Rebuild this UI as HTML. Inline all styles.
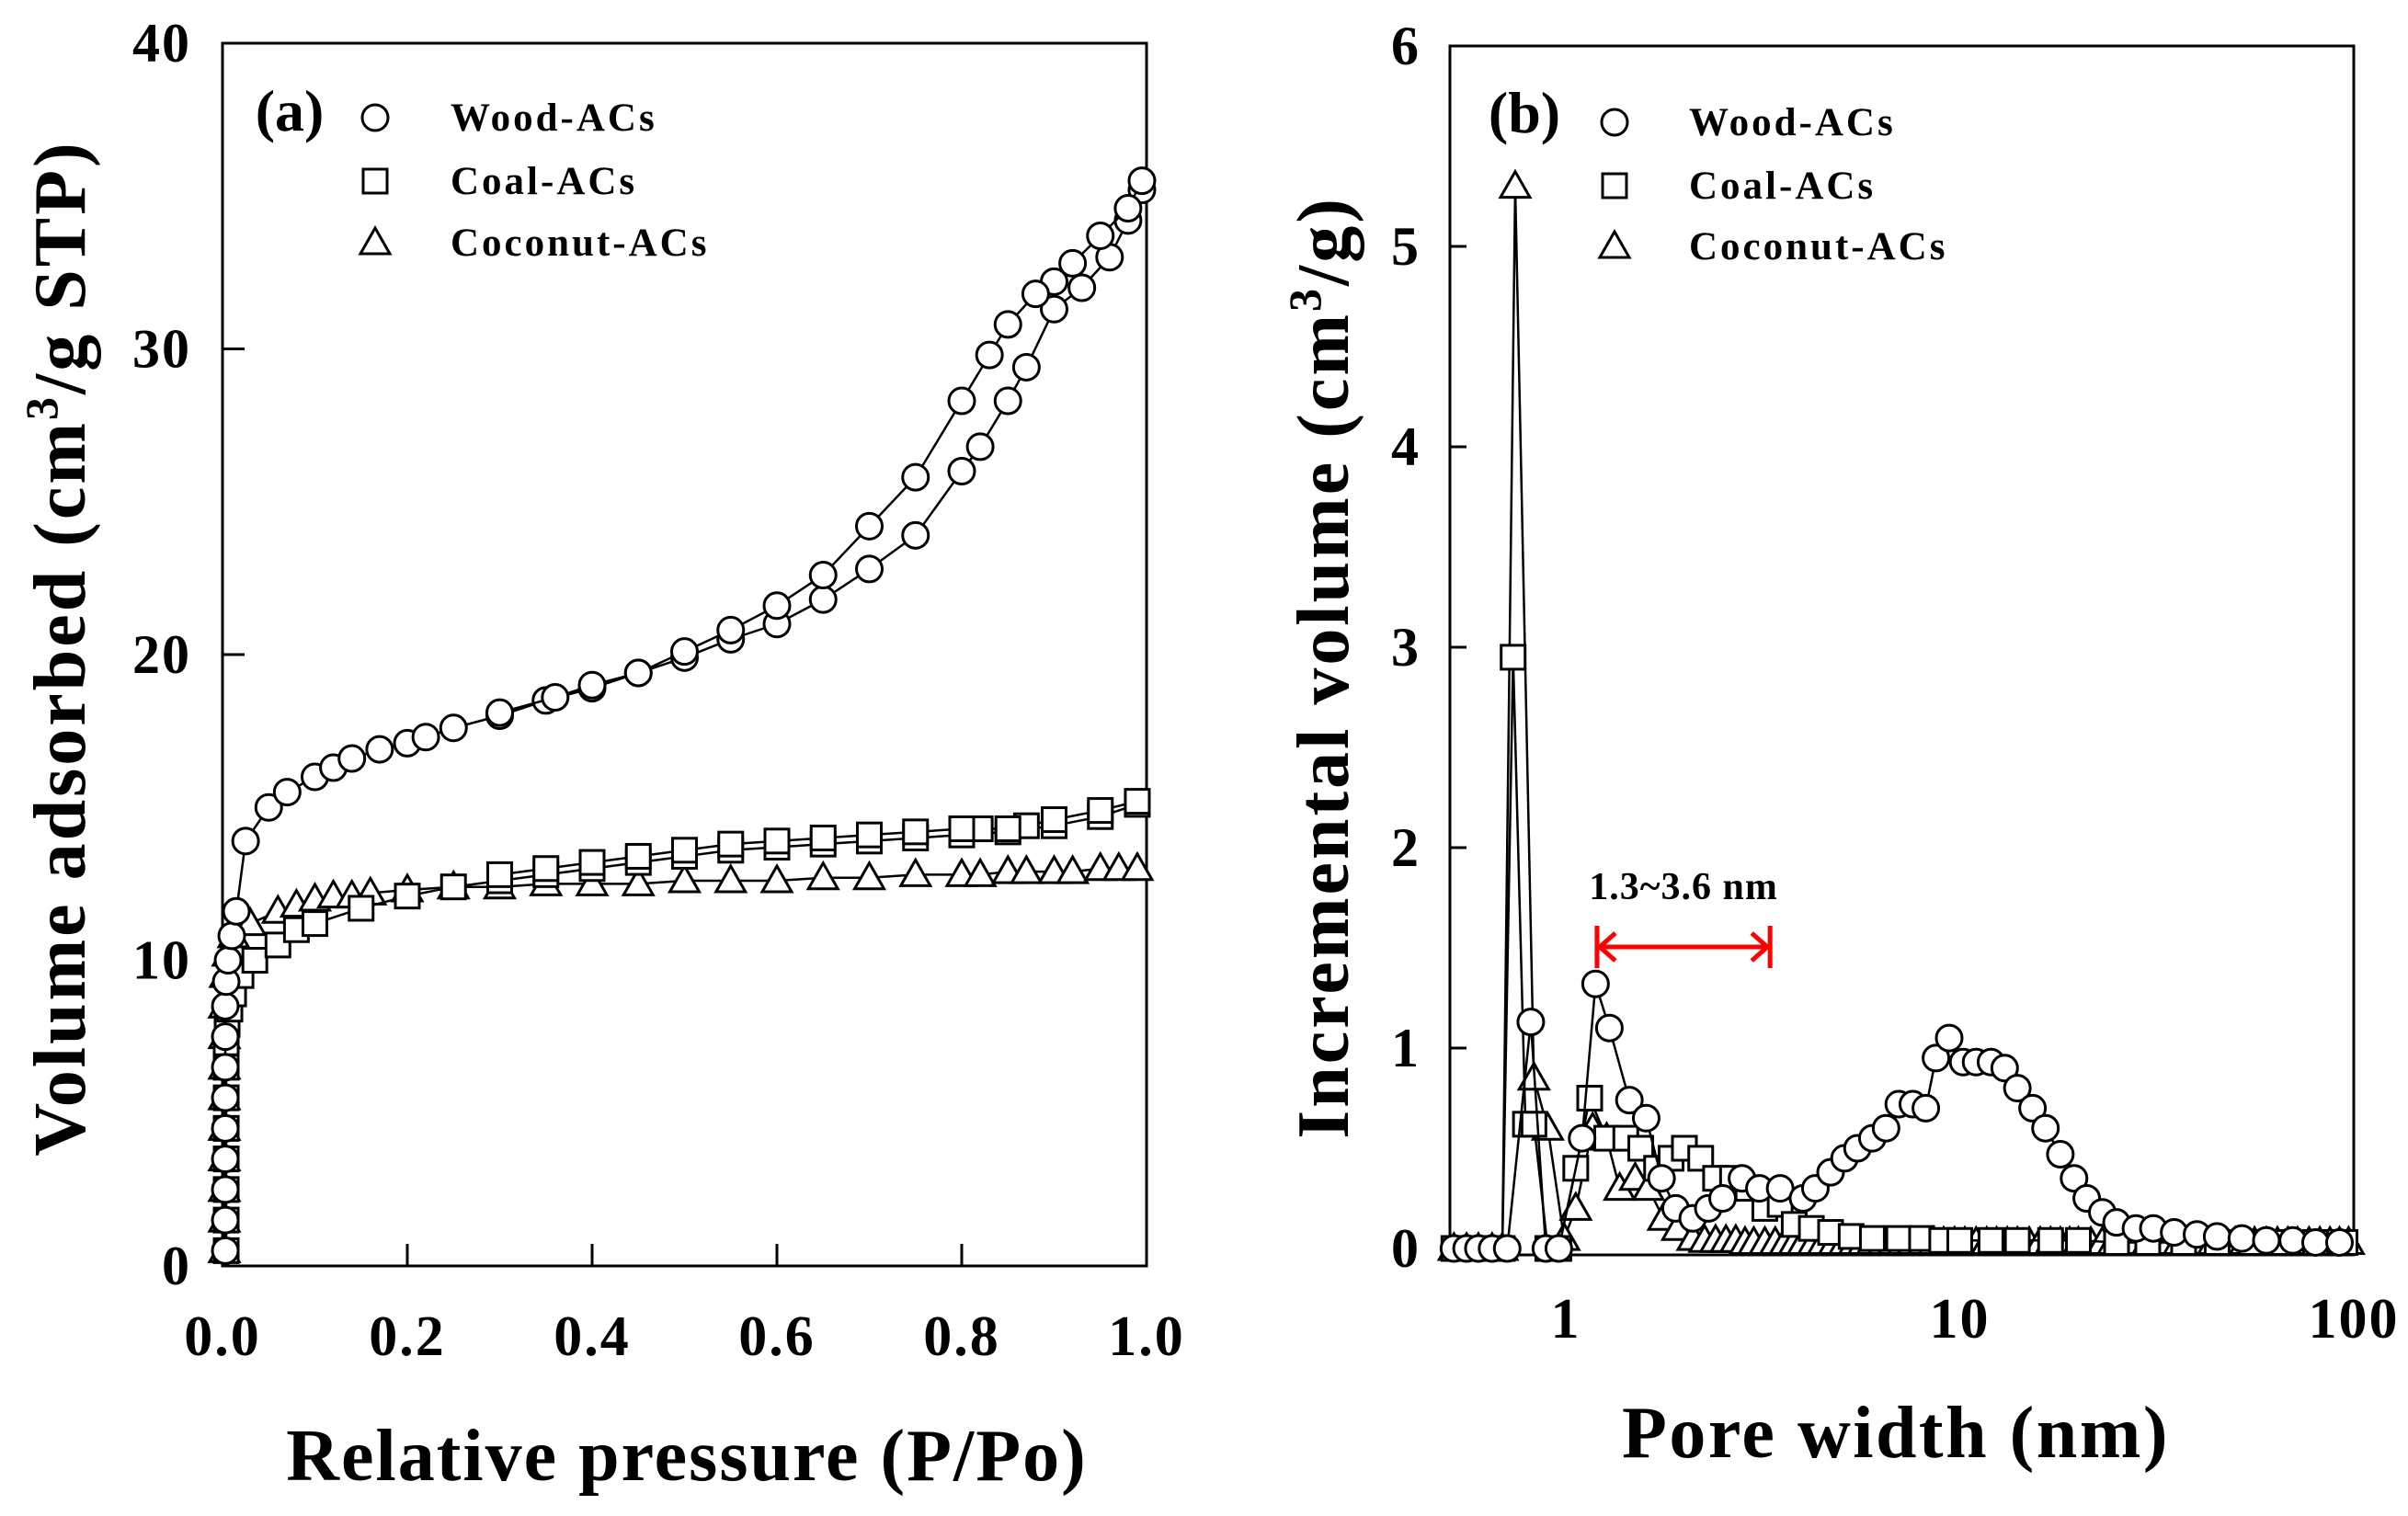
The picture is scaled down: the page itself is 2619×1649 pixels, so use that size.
<!DOCTYPE html>
<html><head><meta charset="utf-8"><style>
html,body{margin:0;padding:0;background:#fff;}
svg{display:block;font-family:"Liberation Serif",serif;font-weight:bold;}
</style></head><body>
<svg id="fig" width="2619" height="1649" viewBox="0 0 2619 1649" xmlns="http://www.w3.org/2000/svg">
<g id="pa"></g>
<g id="pb"></g>
</svg>
<script>
// ---- Panel (a) data ----
const aYTicks=[0,10,20,30,40];
const aXTicks=[0.0,0.2,0.4,0.6,0.8,1.0];
const aXTickLabels=["0.0","0.2","0.4","0.6","0.8","1.0"];
const woodAdsP=[0.003,0.003,0.003,0.003,0.003,0.003,0.003,0.003,0.003,0.004,0.006,0.01,0.015,0.025,0.05,0.07,0.1,0.12,0.14,0.17,0.2,0.22,0.25,0.3,0.35,0.4,0.45,0.5,0.55,0.6,0.65,0.7,0.75,0.8,0.82,0.85,0.87,0.9,0.93,0.96,0.98,0.995];
const woodAdsV=[0.5,1.5,2.5,3.5,4.5,5.5,6.5,7.5,8.5,9.3,10,10.8,11.6,13.9,15,15.5,16,16.3,16.6,16.9,17.1,17.3,17.6,18,18.5,18.9,19.4,19.9,20.5,21,21.8,22.8,23.9,26,26.8,28.3,29.4,31.3,32,33,34.2,35.2];
const woodDesP=[0.995,0.98,0.95,0.92,0.9,0.88,0.85,0.83,0.8,0.75,0.7,0.65,0.6,0.55,0.5,0.45,0.4,0.36,0.3];
const woodDesV=[35.5,34.6,33.7,32.8,32.2,31.8,30.8,29.8,28.3,25.8,24.2,22.6,21.6,20.8,20.1,19.4,19,18.6,18.1];
const coalAdsP=[0.004,0.004,0.004,0.004,0.004,0.004,0.004,0.004,0.005,0.008,0.012,0.02,0.035,0.06,0.08,0.1,0.15,0.2,0.25,0.3,0.35,0.4,0.45,0.5,0.55,0.6,0.65,0.7,0.75,0.8,0.85,0.9,0.95,0.99];
const coalAdsV=[0.5,1.5,2.5,3.5,4.5,5.5,6.5,7.3,7.9,8.4,8.9,9.5,10,10.5,11,11.2,11.7,12.1,12.4,12.6,12.8,13,13.2,13.4,13.6,13.7,13.8,13.9,14,14.1,14.2,14.4,14.7,15.1];
const coalDesP=[0.99,0.95,0.9,0.87,0.85,0.82,0.8,0.75,0.7,0.65,0.6,0.55,0.5,0.45,0.4,0.35,0.3];
const coalDesV=[15.2,14.9,14.6,14.4,14.3,14.3,14.3,14.2,14.1,14,13.9,13.8,13.6,13.4,13.2,13,12.8];
const cocoP=[0.002,0.002,0.002,0.002,0.002,0.002,0.002,0.002,0.002,0.003,0.006,0.012,0.03,0.06,0.08,0.1,0.12,0.14,0.16,0.2,0.25,0.3,0.35,0.4,0.45,0.5,0.55,0.6,0.65,0.7,0.75,0.8,0.82,0.85,0.87,0.9,0.92,0.95,0.97,0.99];
const cocoV=[0.5,1.5,2.5,3.5,4.5,5.5,6.5,7.5,8.5,9.5,10.2,10.8,11.2,11.6,11.8,12,12.1,12.1,12.2,12.3,12.4,12.4,12.5,12.5,12.5,12.6,12.6,12.6,12.7,12.7,12.8,12.8,12.8,12.9,12.9,12.9,12.9,13,13,13];
// ---- Panel (b) data ----
const bYTicks=[0,1,2,3,4,5,6];
const bXTicks=[1,10,100];
const woodW=[0.52,0.56,0.6,0.65,0.71,0.815,0.89,0.96,1.1,1.19,1.29,1.45,1.6,1.75,1.9,2.1,2.3,2.5,2.8,3.1,3.5,4.0,4.3,4.7,5.1,5.5,6.0,6.5,7.0,7.6,8.2,8.7,9.4,10.2,11,12,13,14,15.3,16.5,18,19.5,21,23,25,28,31,35,40,45,52,60,70,80,92];
const woodI=[0,0,0,0,0,1.13,0,0,0.55,1.32,1.1,0.74,0.65,0.35,0.2,0.15,0.2,0.25,0.35,0.3,0.3,0.25,0.3,0.38,0.45,0.5,0.55,0.6,0.72,0.72,0.7,0.95,1.05,0.93,0.93,0.93,0.9,0.8,0.7,0.6,0.47,0.35,0.25,0.18,0.13,0.1,0.1,0.08,0.07,0.06,0.05,0.04,0.04,0.03,0.03];
const coalW=[0.52,0.56,0.6,0.65,0.69,0.735,0.79,0.83,0.9,0.96,1.06,1.15,1.27,1.42,1.55,1.7,1.85,2.0,2.2,2.4,2.65,2.9,3.2,3.5,3.8,4.2,4.7,5.3,6,7,8,9,10,12,14,17,20,25,30,37,45,55,65,80,95];
const coalI=[0,0,0,0,0,2.95,0.62,0.62,0,0,0.4,0.75,0.55,0.55,0.5,0.4,0.45,0.5,0.45,0.35,0.35,0.3,0.2,0.22,0.12,0.1,0.08,0.06,0.05,0.05,0.05,0.04,0.04,0.04,0.04,0.04,0.04,0.03,0.03,0.03,0.03,0.03,0.03,0.03,0.03];
const cocoW=[0.52,0.56,0.6,0.65,0.69,0.744,0.83,0.9,0.99,1.06,1.17,1.27,1.37,1.5,1.62,1.77,1.92,2.1,2.25,2.4,2.55,2.7,2.85,3.0,3.2,3.4,3.6,3.8,4.0,4.25,4.5,4.8,5.1,5.4,5.7,6.0,6.4,6.8,7.2,7.6,8.1,8.6,9.1,9.7,10.3,11,11.7,12.4,13.2,14,15,16,17,18,19,20,21.5,23,24.5,26,28,30,32,34,36,38,41,44,47,50,53,56,60,64,68,72,77,82,87,92,97];
const cocoI=[0,0,0,0,0,5.3,0.85,0.6,0.05,0.2,0.6,0.55,0.3,0.35,0.3,0.15,0.1,0.05,0.04,0.04,0.04,0.04,0.03,0.03,0.03,0.03,0.03,0.03,0.03,0.03,0.03,0.03,0.03,0.03,0.03,0.03,0.03,0.03,0.03,0.03,0.03,0.03,0.03,0.03,0.03,0.03,0.03,0.03,0.03,0.03,0.03,0.03,0.03,0.03,0.03,0.03,0.03,0.03,0.03,0.03,0.03,0.03,0.03,0.03,0.03,0.03,0.03,0.03,0.03,0.03,0.03,0.03,0.03,0.03,0.03,0.03,0.03,0.03,0.03,0.03,0.03];
const arrowRange=[1.2,3.3];

const NS="http://www.w3.org/2000/svg";
function mk(parent,tag,attrs,text){const e=document.createElementNS(NS,tag);for(const k in attrs)e.setAttribute(k,attrs[k]);if(text!==undefined)e.textContent=text;parent.appendChild(e);return e;}
const ax=v=>242+v*(1247-242);
const ay=v=>1377-v*(1377-47)/40;
const bx=v=>1703+Math.log10(v)*428.5;
const by=v=>1358-v*218;

function marker(g,type,x,y,name){
  let e;
  if(type==='c'){e=mk(g,'circle',{cx:x,cy:y,r:14,fill:'#fff',stroke:'#000','stroke-width':3});}
  else if(type==='s'){e=mk(g,'rect',{x:x-13,y:y-13,width:26,height:26,fill:'#fff',stroke:'#000','stroke-width':3});}
  else {e=mk(g,'polygon',{points:`${x},${y-16} ${x-16},${y+12} ${x+16},${y+12}`,fill:'#fff',stroke:'#000','stroke-width':3});}
  
  
}
function series(g,xs,ys,fx,fy,type,name){
  const sg=mk(g,'g',{});
  
  
  const pts=xs.map((x,i)=>fx(x)+','+fy(ys[i])).join(' ');
  const l=mk(sg,'polyline',{points:pts,fill:'none',stroke:'#000','stroke-width':2.5});
  
  
  xs.forEach((x,i)=>marker(sg,type,fx(x),fy(ys[i]),name+'-point'));
}
function legend(g,x0,tx,rows,names){
  const t=['c','s','t'];
  rows.forEach((y,i)=>{
    marker(g,t[i],x0,y,'legend-marker');
    const e=mk(g,'text',{x:tx,y:y+14,'font-size':43,'letter-spacing':3},names[i]);
    
    
  });
}
// ---------- Panel A ----------
const pa=document.getElementById('pa');
let f=mk(pa,'rect',{x:242,y:47,width:1005,height:1330,fill:'none',stroke:'#000','stroke-width':3});

aYTicks.forEach(v=>{
  const l=mk(pa,'line',{x1:242,x2:266,y1:ay(v),y2:ay(v),stroke:'#000','stroke-width':3});
  
  const t=mk(pa,'text',{x:208,y:ay(v)+20,'font-size':60,'text-anchor':'end','letter-spacing':2},String(v));
  
});
aXTicks.forEach((v,i)=>{
  const l=mk(pa,'line',{x1:ax(v),x2:ax(v),y1:1377,y2:1353,stroke:'#000','stroke-width':3});
  
  const t=mk(pa,'text',{x:ax(v),y:1474,'font-size':62,'text-anchor':'middle','letter-spacing':2},aXTickLabels[i]);
  
});
series(pa,cocoP,cocoV,ax,ay,'t','coconut-acs-series');
series(pa,coalAdsP,coalAdsV,ax,ay,'s','coal-acs-adsorption');
series(pa,coalDesP,coalDesV,ax,ay,'s','coal-acs-desorption');
series(pa,woodAdsP,woodAdsV,ax,ay,'c','wood-acs-adsorption');
series(pa,woodDesP,woodDesV,ax,ay,'c','wood-acs-desorption');
let t=mk(pa,'text',{x:315,y:142,'font-size':64,'text-anchor':'middle'},'(a)');

legend(pa,408,490,[128,197,264],['Wood-ACs','Coal-ACs','Coconut-ACs']);
t=mk(pa,'text',{x:747,y:1610,'font-size':80,'text-anchor':'middle','letter-spacing':2},'Relative pressure (P/Po)');

t=mk(pa,'text',{transform:'translate(92,705) rotate(-90)','font-size':80,'text-anchor':'middle','letter-spacing':3});

t.innerHTML='Volume adsorbed (cm<tspan dy="-30" font-size="50">3</tspan><tspan dy="30">/g STP)</tspan>';

// ---------- Panel B ----------
const pb=document.getElementById('pb');
f=mk(pb,'rect',{x:1577,y:50,width:983,height:1315,fill:'none',stroke:'#000','stroke-width':3});

bYTicks.forEach(v=>{
  const l=mk(pb,'line',{x1:1577,x2:1595,y1:by(v),y2:by(v),stroke:'#000','stroke-width':3});
  
  const t2=mk(pb,'text',{x:1543,y:by(v)+20,'font-size':60,'text-anchor':'end'},String(v));
  
});
bXTicks.forEach(v=>{
  const t2=mk(pb,'text',{x:bx(v),y:1455,'font-size':62,'text-anchor':'middle','letter-spacing':2},String(v));
  
});
series(pb,cocoW,cocoI,bx,by,'t','coconut-acs-psd');
series(pb,coalW,coalI,bx,by,'s','coal-acs-psd');
series(pb,woodW,woodI,bx,by,'c','wood-acs-psd');
t=mk(pb,'text',{x:1658,y:144,'font-size':64,'text-anchor':'middle'},'(b)');

legend(pb,1756,1837,[133,202,268],['Wood-ACs','Coal-ACs','Coconut-ACs']);
const ag=mk(pb,'g',{stroke:'#f00','stroke-width':5,fill:'none'});

const x1=bx(arrowRange[0]),x2=bx(arrowRange[1]);
mk(ag,'line',{x1:x1,x2:x2,y1:1030,y2:1030});
mk(ag,'line',{x1:x1,x2:x1,y1:1007,y2:1053});
mk(ag,'line',{x1:x2,x2:x2,y1:1007,y2:1053});
mk(ag,'polyline',{points:`${x1+20},${1015} ${x1+3},${1030} ${x1+20},${1045}`});
mk(ag,'polyline',{points:`${x2-20},${1015} ${x2-3},${1030} ${x2-20},${1045}`});
t=mk(pb,'text',{x:(x1+x2)/2,y:978,'font-size':42,'text-anchor':'middle','letter-spacing':1},'1.3~3.6 nm');

t=mk(pb,'text',{x:2062,y:1585,'font-size':80,'text-anchor':'middle','letter-spacing':2.5},'Pore width (nm)');

t=mk(pb,'text',{transform:'translate(1466,726) rotate(-90)','font-size':80,'text-anchor':'middle','letter-spacing':3});

t.innerHTML='Incremental volume (cm<tspan dy="-30" font-size="50">3</tspan><tspan dy="30">/g)</tspan>';
</script>
</body></html>
